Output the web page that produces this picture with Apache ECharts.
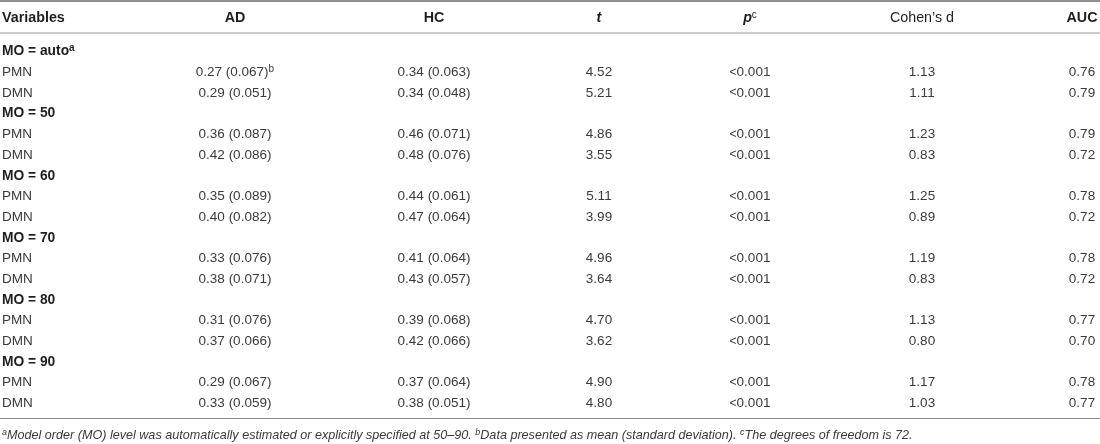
<!DOCTYPE html>
<html>
<head>
<meta charset="utf-8">
<script src="https://cdn.jsdelivr.net/npm/echarts@6/dist/echarts.min.js"></script>
<style>
  html, body { margin: 0; padding: 0; background: #fff; }
  #main { width: 1100px; height: 444px; }
</style>
</head>
<body>
<div id="main"></div>
<script>
// table content
var headers = ['Variables', 'AD', 'HC', 't', 'p', 'Cohen\u2019s d', 'AUC'];
var headerNotes = ['', '', '', '', 'c', '', ''];
var groupLabels = ['MO = auto', 'MO = 50', 'MO = 60', 'MO = 70', 'MO = 80', 'MO = 90'];
var groupNotes = ['a', '', '', '', '', ''];
var regions = ['PMN', 'DMN'];

var adMean = [0.27, 0.29, 0.36, 0.42, 0.35, 0.40, 0.33, 0.38, 0.31, 0.37, 0.29, 0.33];
var adSd   = [0.067, 0.051, 0.087, 0.086, 0.089, 0.082, 0.076, 0.071, 0.076, 0.066, 0.067, 0.059];
var adNotes = ['b', '', '', '', '', '', '', '', '', '', '', ''];
var hcMean = [0.34, 0.34, 0.46, 0.48, 0.44, 0.47, 0.41, 0.43, 0.39, 0.42, 0.37, 0.38];
var hcSd   = [0.063, 0.048, 0.071, 0.076, 0.061, 0.064, 0.064, 0.057, 0.068, 0.066, 0.064, 0.051];
var tVals  = [4.52, 5.21, 4.86, 3.55, 5.11, 3.99, 4.96, 3.64, 4.70, 3.62, 4.90, 4.80];
var pVals  = ['<0.001', '<0.001', '<0.001', '<0.001', '<0.001', '<0.001',
              '<0.001', '<0.001', '<0.001', '<0.001', '<0.001', '<0.001'];
var cohenD = [1.13, 1.11, 1.23, 0.83, 1.25, 0.89, 1.19, 0.83, 1.13, 0.80, 1.17, 1.03];
var auc    = [0.76, 0.79, 0.79, 0.72, 0.78, 0.72, 0.78, 0.72, 0.77, 0.70, 0.78, 0.77];

var footnote = [
  ['a', 'Model order (MO) level was automatically estimated or explicitly specified at 50\u201390. '],
  ['b', 'Data presented as mean (standard deviation). '],
  ['c', 'The degrees of freedom is 72.']
];

// layout (pixel space of the hidden axes)
var colX = [2, 235, 434, 599, 750, 922, 1082];
var colAlign = ['left', 'center', 'center', 'center', 'center', 'center', 'center'];
var headerY = 18;
var firstRowY = 51.5;
var rowStep = 20.7;
var rules = [[1, 1.6, '#6b6b6b'], [33, 1, '#9a9a9a'], [418.5, 1, '#8a8a8a']];
var footY = 435;

var FONT = '"Liberation Sans", Arial, Helvetica, sans-serif';

function esc(s) { return String(s).replace(/[{}|]/g, ''); }
function rt(style, text, note, supStyle) {
  var s = '{' + style + '|' + esc(text) + '}';
  if (note) s += '{' + (supStyle || 'sup') + '|' + note + '}';
  return s;
}

// build cell list: [x, y, richText, align]
var cells = [];
headers.forEach(function (h, c) {
  var st = (c === 3 || c === 4) ? 'hi' : (c === 5 ? 'hr' : 'hb');
  cells.push([colX[c], headerY, rt(st, h, headerNotes[c], 'hsup'), colAlign[c]]);
});
var row = 0;
groupLabels.forEach(function (g, gi) {
  cells.push([colX[0], firstRowY + row * rowStep, rt('g', g, groupNotes[gi], 'gsup'), 'left']);
  row++;
  regions.forEach(function (r, ri) {
    var i = gi * 2 + ri;
    var y = firstRowY + row * rowStep;
    var vals = [
      rt('n', r),
      rt('n', adMean[i].toFixed(2) + ' (' + adSd[i].toFixed(3) + ')', adNotes[i]),
      rt('n', hcMean[i].toFixed(2) + ' (' + hcSd[i].toFixed(3) + ')'),
      rt('n', tVals[i].toFixed(2)),
      rt('lt', '<') + rt('n', pVals[i].slice(1)),
      rt('n', cohenD[i].toFixed(2)),
      rt('n', auc[i].toFixed(2))
    ];
    vals.forEach(function (v, c) {
      cells.push([colX[c], y, v, colAlign[c]]);
    });
    row++;
  });
});
var footText = footnote.map(function (f) { return '{fsup|' + f[0] + '}{f|' + f[1] + '}'; }).join('');
cells.push([colX[0], footY, footText, 'left']);

var rich = {
  hb:  { font: 'bold 14.3px ' + FONT, fill: '#1e1e1e', lineHeight: 16 },
  hr:  { font: '14.3px ' + FONT, fill: '#1e1e1e', lineHeight: 16 },
  hi:  { font: 'italic bold 14.3px ' + FONT, fill: '#1e1e1e', lineHeight: 16 },
  hsup:{ font: '10px ' + FONT, fill: '#1e1e1e', lineHeight: 10, verticalAlign: 'top' },
  g:   { font: 'bold 13.8px ' + FONT, fill: '#1e1e1e', lineHeight: 16 },
  gsup:{ font: 'bold 10px ' + FONT, fill: '#1e1e1e', lineHeight: 10, verticalAlign: 'top' },
  n:   { font: '13.5px ' + FONT, fill: '#3a3a3a', lineHeight: 16 },
  lt:  { font: '12px ' + FONT, fill: '#3a3a3a', lineHeight: 16 },
  sup: { font: '10px ' + FONT, fill: '#3a3a3a', lineHeight: 10, verticalAlign: 'top' },
  f:   { font: 'italic 12.6px ' + FONT, fill: '#3a3a3a', lineHeight: 14 },
  fsup:{ font: 'italic 9px ' + FONT, fill: '#3a3a3a', lineHeight: 9, verticalAlign: 'top' }
};

var chart = echarts.init(document.getElementById('main'), null, { renderer: 'canvas' });
chart.setOption({
  animation: false,
  backgroundColor: '#fff',
  grid: { left: 0, right: 0, top: 0, bottom: 0 },
  xAxis: { type: 'value', min: 0, max: 1100, show: false },
  yAxis: { type: 'value', min: 0, max: 444, inverse: true, show: false },
  series: [
    {
      type: 'custom',
      coordinateSystem: 'cartesian2d',
      data: rules,
      renderItem: function (params, api) {
        var y = api.value(0);
        var a = api.coord([0, y]);
        var b = api.coord([1100, y]);
        return {
          type: 'line',
          shape: { x1: a[0], y1: a[1], x2: b[0], y2: b[1] },
          style: { stroke: rules[params.dataIndex][2], lineWidth: api.value(1) }
        };
      }
    },
    {
      type: 'custom',
      coordinateSystem: 'cartesian2d',
      data: cells.map(function (c) { return [c[0], c[1]]; }),
      renderItem: function (params, api) {
        var p = api.coord([api.value(0), api.value(1)]);
        var c = cells[params.dataIndex];
        return {
          type: 'text',
          style: {
            text: c[2],
            rich: rich,
            x: p[0],
            y: p[1],
            align: c[3],
            verticalAlign: 'middle'
          }
        };
      }
    }
  ]
});
</script>
</body>
</html>
